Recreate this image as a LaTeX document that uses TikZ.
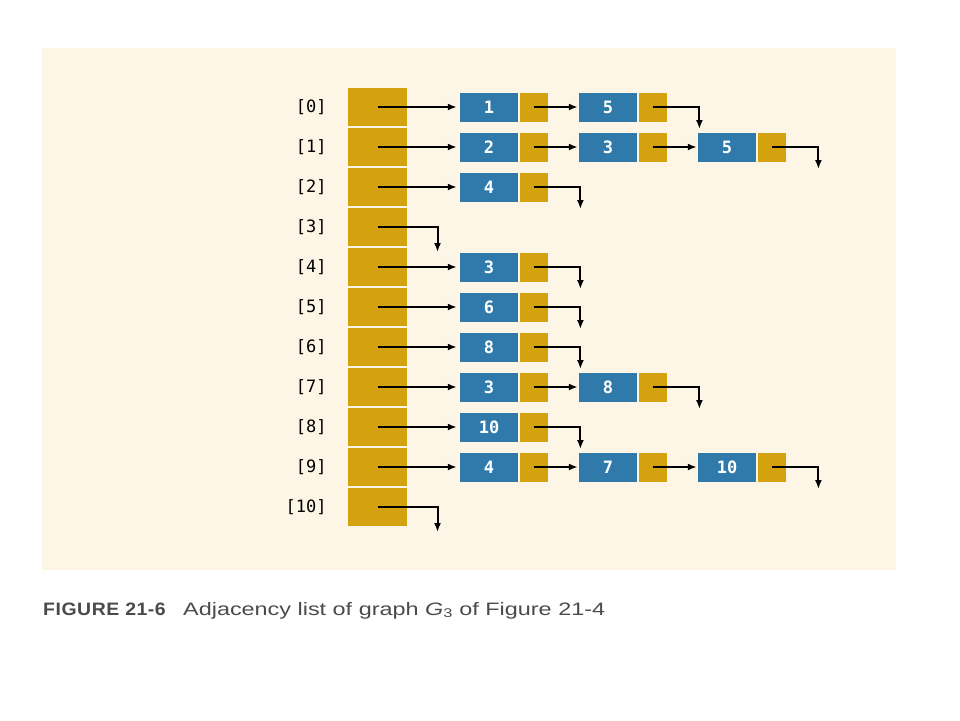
\documentclass[tikz,border=0pt]{standalone}
\usepackage{fontspec}
\setmainfont{Liberation Sans}
\setmonofont{DejaVu Sans Mono}
\newfontfamily\capfont[FakeStretch=1.3]{Liberation Sans}
\newfontfamily\figfont[FakeStretch=1.08, LetterSpace=3]{Liberation Sans}
\usetikzlibrary{matrix, positioning, calc, arrows.meta}
\definecolor{panel}{HTML}{FDF5E6}
\definecolor{gold}{HTML}{D4A20F}
\definecolor{cellblue}{HTML}{2F7AAA}
\definecolor{capgray}{HTML}{4A4A4A}
\tikzset{
	slot/.style={
		fill=gold,
		inner sep=0pt,
		minimum width=59pt,
		minimum height=38pt
	},
	headers/.style={
		matrix of nodes,
		nodes={slot},
		row sep={between origins, 40pt},
		nodes in empty cells
	},
	vertex/.style={
		fill=cellblue,
		text=white,
		inner sep=0pt,
		minimum width=58pt,
		minimum height=29pt,
		font=\ttfamily\bfseries\fontsize{17}{17}\selectfont
	},
	link/.style={
		fill=gold,
		inner sep=0pt,
		minimum width=28pt,
		minimum height=29pt
	},
	idx/.style={
		inner sep=0pt,
		font=\ttfamily\fontsize{17}{17}\selectfont
	},
	pointer/.style={black, line width=2pt, ->, >={Latex[length=9pt, width=7pt]}}
}

\begin{document}
\begin{tikzpicture}[x=1pt, y=-1pt]
	\useasboundingbox (0,0) rectangle (960,720);
	\fill[panel] (42,48) rectangle (896,570);

	% array of list heads
	\matrix[headers] (adj) at (377.5,307) {
		\\ \\ \\ \\ \\ \\ \\ \\ \\ \\ \\
	};

	% index labels
	\foreach \i in {0,...,10} {
		\pgfmathtruncatemacro\row{\i+1}
		\node[idx, left=21pt of adj-\row-1] (lbl-\i) {[\i]};
	}

	% adjacency lists
	\foreach \r/\items in {0/{1,5}, 1/{2,3,5}, 2/{4}, 4/{3}, 5/{6}, 6/{8}, 7/{3,8}, 8/{10}, 9/{4,7,10}} {
		\pgfmathtruncatemacro\row{\r+1}
		\foreach \v [count=\k from 0, remember=\k as \prev] in \items {
			\node[vertex] (v-\r-\k) at (489+119*\k, 107+40*\r) {\v};
			\node[link, right=2pt of v-\r-\k] (p-\r-\k) {};
			\ifnum\k=0
				\draw[pointer, shorten >=3pt] (adj-\row-1.center) -- (v-\r-\k);
			\else
				\draw[pointer, shorten >=1pt] (p-\r-\prev.center) -- (v-\r-\k);
			\fi
			\xdef\lastk{\k}
		}
		% null pointer
		\coordinate (nil-\r) at ($(p-\r-\lastk.center)+(46,22)$);
		\draw[pointer] (p-\r-\lastk.center) -| (nil-\r);
	}

	% empty lists
	\foreach \r in {3,10} {
		\pgfmathtruncatemacro\row{\r+1}
		\coordinate (nil-\r) at ($(adj-\row-1.center)+(60,25)$);
		\draw[pointer] (adj-\row-1.center) -| (nil-\r);
	}

	% caption
	\node[anchor=base west, inner sep=0pt, text=capgray, font=\figfont\bfseries\fontsize{18}{18}\selectfont] (figlbl) at (43,615) {FIGURE 21-6};
	\node[anchor=base west, inner sep=0pt, text=capgray, font=\capfont\fontsize{18}{18}\selectfont] (captxt) at (183,615) {Adjacency list of graph \textit{G}\textsubscript{3} of Figure 21-4};
\end{tikzpicture}
\end{document}
